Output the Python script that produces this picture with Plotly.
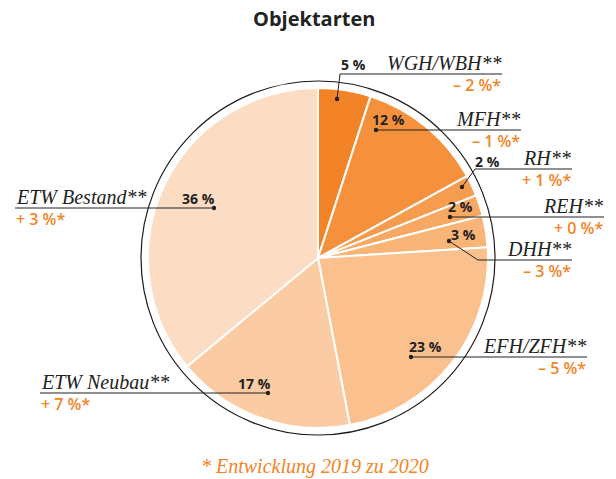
import plotly.graph_objects as go

W, H = 616, 479

categories = ["WGH/WBH**", "MFH**", "RH**", "REH**", "DHH**", "EFH/ZFH**", "ETW Neubau**", "ETW Bestand**"]
shares = [5, 12, 2, 2, 3, 23, 17, 36]
changes = ["– 2 %*", "– 1 %*", "+ 1 %*", "+ 0 %*", "– 3 %*", "– 5 %*", "+ 7 %*", "+ 3 %*"]
colors = ["#F28326", "#F5913D", "#F69C4F", "#F7A862", "#F9B478", "#FAC18E", "#FBCCA4", "#FCDCC2"]

# label layout (pixel positions): dot, elbow, line end, side
label_layout = [
    dict(dot=(337, 99), elbow=(340, 74), end=(502, 74), pct=(353, 64), side="right"),
    dict(dot=(376, 130), elbow=(376, 130), end=(521, 130), pct=(389, 119), side="right"),
    dict(dot=(462, 187), elbow=(475, 169), end=(572, 169), pct=(487, 161), side="right"),
    dict(dot=(450, 217), elbow=(450, 217), end=(604, 217), pct=(460, 206), side="right"),
    dict(dot=(449, 241), elbow=(478, 260), end=(572, 260), pct=(463, 234), side="right"),
    dict(dot=(411, 357), elbow=(411, 357), end=(587, 357), pct=(425, 346), side="right"),
    dict(dot=(268, 393), elbow=(268, 393), end=(40, 393), pct=(254, 383), side="left"),
    dict(dot=(214, 208), elbow=(214, 208), end=(15, 208), pct=(198, 198), side="left"),
]

def px(x):
    return x / W

def py(y):
    return 1 - y / H

cx, cy, r = 318, 258, 170
fig = go.Figure(go.Pie(
    values=shares,
    labels=categories,
    marker=dict(colors=colors, line=dict(color="white", width=2)),
    sort=False,
    direction="clockwise",
    rotation=0,
    textinfo="none",
    hoverinfo="label+percent",
    domain=dict(x=[px(cx - r), px(cx + r)], y=[py(cy + r), py(cy - r)]),
))

shapes = []
R = 177
shapes.append(dict(type="circle", xref="paper", yref="paper",
                   x0=px(cx - R), x1=px(cx + R), y0=py(cy + R), y1=py(cy - R),
                   line=dict(color="#1a1a1a", width=1.2), layer="above"))

annotations = []
label_font = dict(family="Liberation Serif", size=20, color="#222222")
pct_font = dict(family="Open Sans", size=14, color="#222222")
chg_font = dict(family="Open Sans", size=16, color="#F28326", weight=600)

for cat, pct, chg, L in zip(categories, shares, changes, label_layout):
    (dx, dy), (ex, ey), (lx, ly) = L["dot"], L["elbow"], L["end"]
    if (dx, dy) != (ex, ey):
        shapes.append(dict(type="line", xref="paper", yref="paper",
                           x0=px(dx), y0=py(dy), x1=px(ex), y1=py(ey),
                           line=dict(color="#222222", width=1)))
    shapes.append(dict(type="line", xref="paper", yref="paper",
                       x0=px(ex), y0=py(ey), x1=px(lx), y1=py(ly),
                       line=dict(color="#222222", width=1)))
    shapes.append(dict(type="circle", xref="paper", yref="paper",
                       x0=px(dx - 2.2), x1=px(dx + 2.2), y0=py(dy + 2.2), y1=py(dy - 2.2),
                       fillcolor="#222222", line=dict(width=0)))
    anchor = "right" if L["side"] == "right" else "left"
    annotations.append(dict(text="<i>" + cat + "</i>", x=px(lx), y=py(ly - 11),
                            xref="paper", yref="paper", xanchor=anchor, yanchor="middle",
                            showarrow=False, font=label_font, borderpad=0))
    annotations.append(dict(text=chg, x=px(lx), y=py(ly + 11),
                            xref="paper", yref="paper", xanchor=anchor, yanchor="middle",
                            showarrow=False, font=chg_font, borderpad=0))
    annotations.append(dict(text="<b>%d %%</b>" % pct, x=px(L["pct"][0]), y=py(L["pct"][1]),
                            xref="paper", yref="paper", xanchor="center", yanchor="middle",
                            showarrow=False, font=pct_font, borderpad=0))

annotations.append(dict(text="<b>Objektarten</b>", x=px(314), y=py(18), xref="paper", yref="paper",
                        xanchor="center", yanchor="middle", showarrow=False,
                        font=dict(family="Open Sans", size=20, color="#222222")))
annotations.append(dict(text="<i>* Entwicklung 2019 zu 2020</i>", x=px(315), y=py(466), xref="paper", yref="paper",
                        xanchor="center", yanchor="middle", showarrow=False,
                        font=dict(family="Liberation Serif", size=20, color="#F28326")))

fig.update_layout(
    width=W, height=H,
    margin=dict(l=0, r=0, t=0, b=0),
    paper_bgcolor="white", plot_bgcolor="white",
    showlegend=False,
    shapes=shapes,
    annotations=annotations,
)

fig.write_html("out.html")
